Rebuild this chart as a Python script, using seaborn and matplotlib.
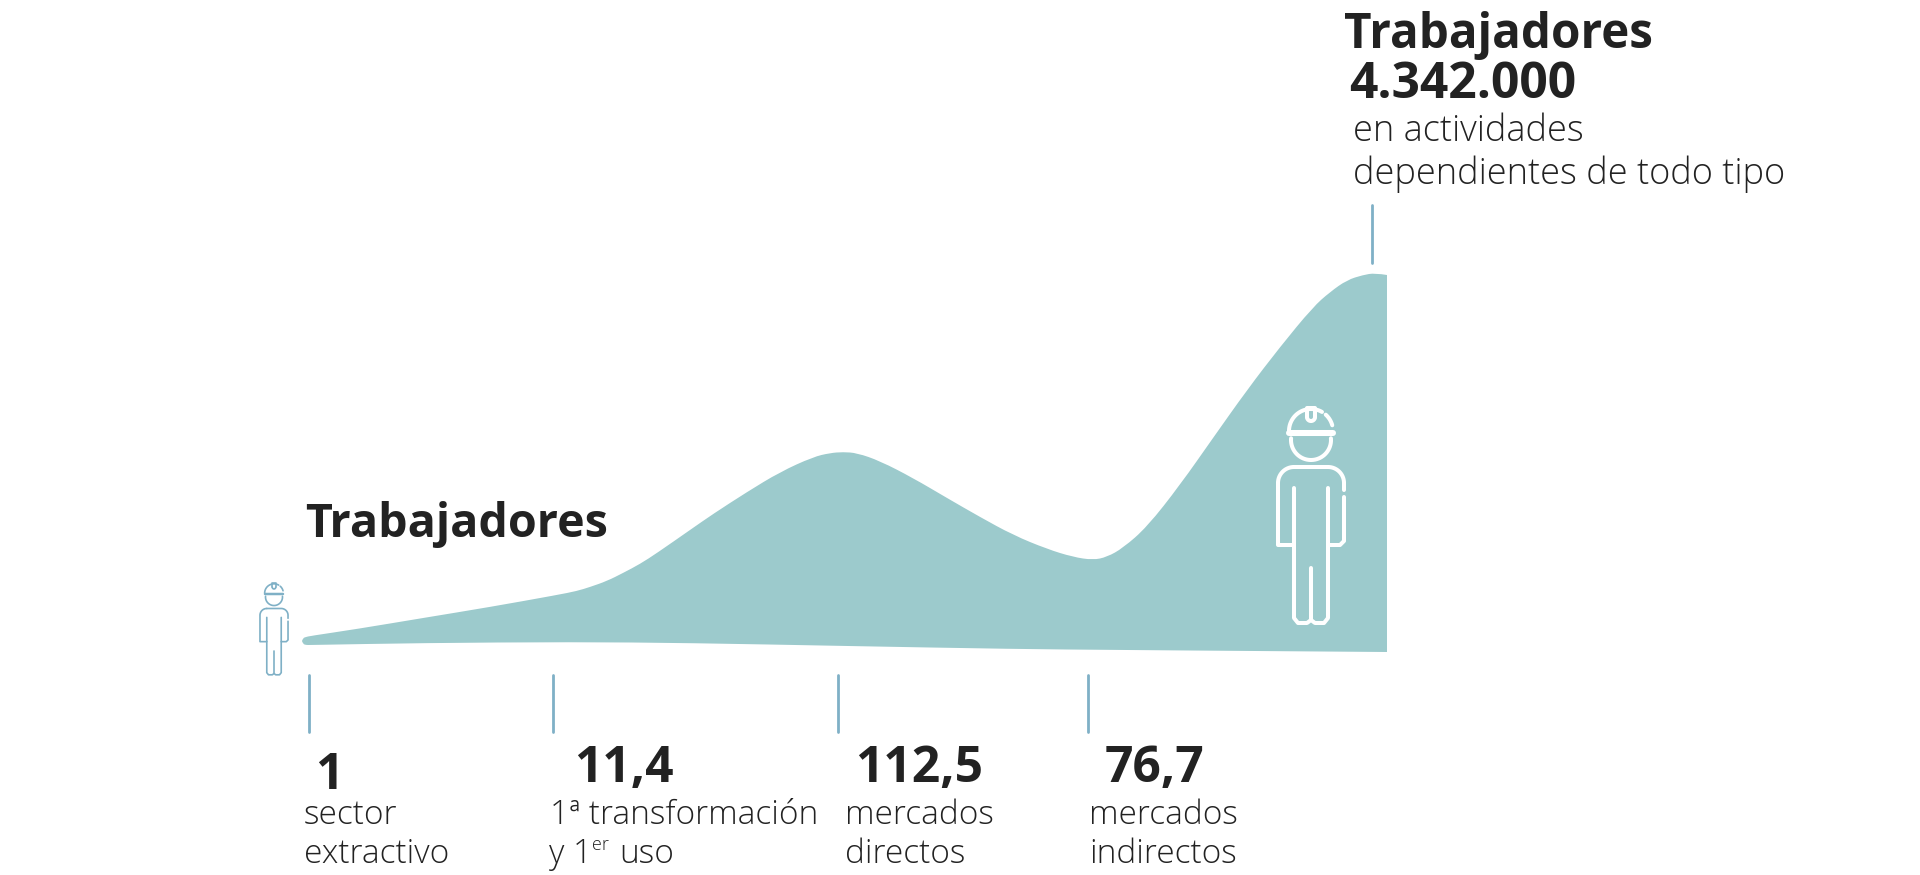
import numpy as np
import pandas as pd
import matplotlib.pyplot as plt
import seaborn as sns
from matplotlib.patches import PathPatch
from matplotlib.path import Path

# outline of the area (pixels)
upper_x = [302, 303, 306, 310, 357, 423, 490, 557, 577, 590, 607, 623, 640, 657, 690, 713, 747, 780,
           813, 830, 843, 857, 880, 913, 947, 980, 1013, 1047, 1073, 1093, 1107, 1123, 1147, 1180,
           1213, 1247, 1280, 1313, 1330, 1347, 1363, 1375, 1387]
upper_y = [641, 638, 637, 636, 629, 618, 607, 595, 591, 587, 581, 573, 564, 553, 530, 514, 492, 472,
           457, 453, 452, 453, 461, 478, 498, 517, 535, 549, 557, 560, 557, 548, 527, 485,
           438, 390, 347, 307, 292, 280, 275, 273, 275]
lower_x = [1387, 1120, 1013, 847, 690, 573, 423, 310, 306, 303, 302]
lower_y = [652, 650, 649, 646, 643, 642, 643, 645, 645, 644, 641]

tick_x = [309, 553, 838, 1088, 1372]
tick_top = [675, 675, 675, 675, 205]
tick_bottom = [732, 732, 732, 732, 263]

FILL = "#9CCACC"
TICK = "#7FB0C6"
INK = "#222222"

sns.set_theme(style="white")
plt.rcParams["font.family"] = ["Open Sans", "DejaVu Sans"]

fig = plt.figure(figsize=(19.2, 8.75), dpi=100)
ax = fig.add_axes([0, 0, 1, 1])


def smooth_run(xs, ys):
    # quadratic segments with the read points as control points
    pts = np.column_stack([xs, ys])
    verts, codes = [], []
    for i in range(1, len(pts) - 1):
        end = (pts[i] + pts[i + 1]) / 2 if i < len(pts) - 2 else pts[i + 1]
        verts += [pts[i], end]
        codes += [Path.CURVE3, Path.CURVE3]
    return verts, codes


up_v, up_c = smooth_run(upper_x, upper_y)
low_v, low_c = smooth_run(lower_x, lower_y)
verts = [(upper_x[0], upper_y[0])] + up_v + [(lower_x[0], lower_y[0])] + low_v + [(upper_x[0], upper_y[0])]
codes = [Path.MOVETO] + up_c + [Path.LINETO] + low_c + [Path.CLOSEPOLY]
ax.add_patch(PathPatch(Path(verts, codes), facecolor=FILL, edgecolor="none"))

ticks = pd.DataFrame({
    "x": tick_x + tick_x,
    "y": tick_top + tick_bottom,
    "tick": list(range(len(tick_x))) * 2,
})
sns.lineplot(data=ticks, x="x", y="y", units="tick", estimator=None, sort=False,
             color=TICK, lw=2, ax=ax)


def arc(cx, cy, r, start, end):
    a = np.radians(np.linspace(start, end, 40))
    return cx + r * np.cos(a), cy + r * np.sin(a)


def worker(cx, top, s, color, lw):
    # little man with helmet, units are pixels of the big one
    def stroke(xs, ys, w=lw):
        ax.plot(cx + np.asarray(xs) * s, top + np.asarray(ys) * s, color=color, lw=w,
                solid_capstyle="round", solid_joinstyle="round")

    stroke(*arc(0, 24, 22, 180, 300))
    stroke(*arc(0, 24, 22, 312, 345))
    stroke([-22, 22], [26, 26], lw * 1.5)
    stroke([-4, -4, 4, 4], [10, 1, 1, 10])
    stroke(*arc(-0, 10, 4, 0, 180))
    stroke(*arc(0, 33, 20, -5, 185))
    # shoulders and arms
    xs, ys = arc(-17, 76, 16, 270, 180)
    xr, yr = arc(17, 76, 16, 360, 270)
    stroke(np.r_[-17, xs, -33, -33, -17], np.r_[60, ys, 134, 138, 138])
    stroke(np.r_[-17, xr[::-1], 33], np.r_[60, yr[::-1], 83])
    stroke([33, 33, 29, 17], [90, 134, 138, 138])
    # legs
    stroke([-17, -17, -13, -4, 0, 4, 13, 17, 17], [81, 211, 216, 216, 213, 216, 216, 211, 81])
    stroke([0, 0], [161, 212])


worker(274, 583, 0.425, TICK, 1.2)
worker(1311, 407, 1.0, "white", 2.9)

number = dict(fontsize=35.8, fontweight="bold", color=INK)
body = dict(fontsize=26, fontweight="light", color=INK)
small = dict(fontsize=24, fontweight="light", color=INK)

ax.text(305, 537, "Trabajadores", fontsize=33.6, fontweight="bold", color=INK)
ax.text(1344, 48, "Trabajadores", fontsize=34.3, fontweight="bold", color=INK)
ax.text(1349, 98, "4.342.000", **number)
ax.text(1353, 141, "en actividades", **body)
ax.text(1353, 184, "dependientes de todo tipo", **body)

ax.text(315, 789, "1", **number)
ax.text(574, 782, "11,4", **number)
ax.text(855, 782, "112,5", **number)
ax.text(1105, 782, "76,7", **number)

ax.text(304, 824, "sector", **small)
ax.text(304, 863, "extractivo", **small)
ax.text(550, 824, "1ª transformación", **small)
ax.text(549, 863, "y 1", **small)
ax.text(592, 850, "er", fontsize=13, fontweight="light", color=INK)
ax.text(619, 863, "uso", **small)
ax.text(845, 824, "mercados", **small)
ax.text(845, 863, "directos", **small)
ax.text(1089, 824, "mercados", **small)
ax.text(1089, 863, "indirectos", **small)

ax.set_xlim(0, 1920)
ax.set_ylim(875, 0)
ax.axis("off")

fig.savefig("out.png", dpi=100)
